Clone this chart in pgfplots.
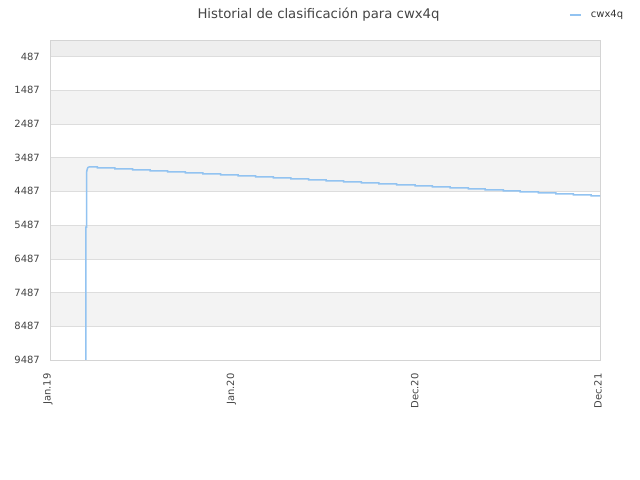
\documentclass[border=0pt]{standalone}
\usepackage{pgfplots}
\pgfplotsset{compat=1.18}
\usepackage{fontspec}
\setmainfont{DejaVu Sans}
\definecolor{linec}{HTML}{92C3F1}
\definecolor{bandc}{HTML}{F3F3F3}
\definecolor{topband}{HTML}{EEEEEE}
\definecolor{gridc}{HTML}{DDDDDD}
\definecolor{axisc}{HTML}{D4D4D4}
\definecolor{txt}{HTML}{444444}
\begin{document}
\begin{tikzpicture}[x=1bp,y=1bp]
\node[text=txt,font=\fontsize{13.3}{15}\selectfont, anchor=base, inner sep=0pt] at (318.5,461.7) {Historial de clasificación para cwx4q};
\begin{axis}[
  set layers,
  scale only axis,
  width=550bp, height=320bp,
  at={(50bp,120bp)}, anchor=south west,
  xmin=0, xmax=3,
  ymin=0, ymax=9487,
  y dir=reverse,
  axis line style={axisc},
  major tick length=0pt,
  xtick={0,1,2,3},
  xticklabels={Jan.19,Jan.20,Dec.20,Dec.21},
  ytick={487,1487,2487,3487,4487,5487,6487,7487,8487,9487},
  yticklabels={487,1487,2487,3487,4487,5487,6487,7487,8487,9487},
  ymajorgrids,
  grid style={gridc, line width=0.6bp},
  tick label style={text=txt,font=\fontsize{10}{12}\selectfont},
  xticklabel style={rotate=90, anchor=east, xshift=-10bp, yshift=2bp},
  yticklabel style={anchor=east, xshift=-6.7bp},
  legend style={at={(0.9436,1.078)}, anchor=west, draw=none, fill=none,
    font=\fontsize{10}{12}\selectfont, text=black!80, inner sep=0pt,
    nodes={inner sep=0pt}, column sep=0pt},
  legend image code/.code={\draw[#1] (0bp,0bp) -- (11bp,0bp); \path[draw=none] (0bp,0bp) -- (21bp,0bp);},
  legend cell align=left,
]
\pgfplotsextra{
\begin{pgfonlayer}{axis background}
\fill[topband] (axis cs:0,0) rectangle (axis cs:3,487);
\fill[bandc] (axis cs:0,1487) rectangle (axis cs:3,2487);
\fill[bandc] (axis cs:0,3487) rectangle (axis cs:3,4487);
\fill[bandc] (axis cs:0,5487) rectangle (axis cs:3,6487);
\fill[bandc] (axis cs:0,7487) rectangle (axis cs:3,8487);
\end{pgfonlayer}
}
\addplot[linec, line width=1.5bp] coordinates {
(0.195,9487) (0.195,5549) (0.200,5549) (0.200,3912) (0.203,3830) (0.207,3780) (0.213,3764)
(0.258,3764) (0.258,3793)
(0.354,3793) (0.354,3823)
(0.450,3823) (0.450,3852)
(0.546,3852) (0.546,3882)
(0.642,3882) (0.642,3911)
(0.738,3911) (0.738,3941)
(0.834,3941) (0.834,3971)
(0.930,3971) (0.930,4000)
(1.026,4000) (1.026,4030)
(1.122,4030) (1.122,4059)
(1.218,4059) (1.218,4089)
(1.314,4089) (1.314,4119)
(1.410,4119) (1.410,4148)
(1.506,4148) (1.506,4178)
(1.602,4178) (1.602,4207)
(1.698,4207) (1.698,4237)
(1.794,4237) (1.794,4267)
(1.890,4267) (1.890,4296)
(1.991,4296) (1.991,4326)
(2.085,4326) (2.085,4355)
(2.182,4355) (2.182,4385)
(2.282,4385) (2.282,4415)
(2.373,4415) (2.373,4444)
(2.473,4444) (2.473,4474)
(2.564,4474) (2.564,4503)
(2.664,4503) (2.664,4533)
(2.759,4533) (2.759,4563)
(2.855,4563) (2.855,4592)
(2.951,4592) (2.951,4622)
(3.000,4622)
};
\addlegendentry{cwx4q}
\end{axis}
\path (0,0) rectangle (640,480);
\end{tikzpicture}
\end{document}
